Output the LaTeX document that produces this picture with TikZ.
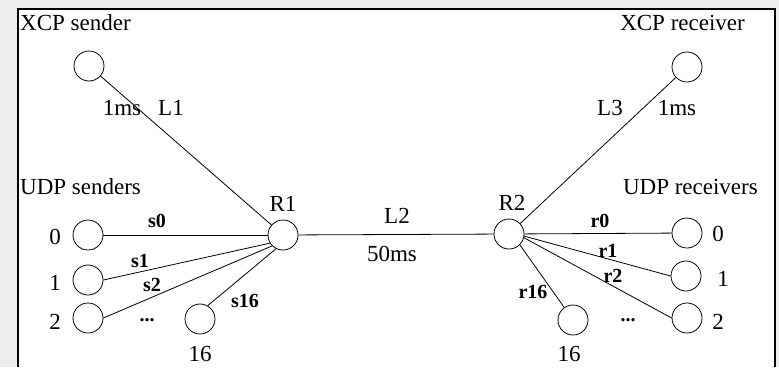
\documentclass[tikz,border=0pt]{standalone}
\usepackage{fontspec}
\setmainfont{Liberation Serif}
\begin{document}
\begin{tikzpicture}[x=1pt,y=-1pt,
  host/.style={draw,circle,minimum size=30pt,inner sep=0pt,line width=0.8pt},
  lbl/.style={inner sep=0pt,font=\fontsize{23}{23}\selectfont},
  elbl/.style={inner sep=0pt,font=\fontsize{20}{20}\selectfont\bfseries},
  link/.style={line width=0.8pt}]
\useasboundingbox (0,0) rectangle (779,367);
% page background and framed area
\fill[black!7] (0,0) rectangle (779,367);
\fill[white] (18,9) rectangle (775,367);
\draw[line width=2pt] (18,367) -- (18,9) -- (775,9) -- (775,367);

% routers
\node[host] (R1) at (283,235) {};
\node[host] (R2) at (509,234) {};
\node[lbl] (R1t) at (283,204) {R1};
\node[lbl] (R2t) at (512,203) {R2};

% XCP endpoints
\node[host] (xs) at (89,66) {};
\node[host] (xr) at (687,67) {};
\node[lbl,anchor=west] (xst) at (20,23) {XCP sender};
\node[lbl,anchor=east] (xrt) at (745,23) {XCP receiver};

% UDP senders
\node[host] (s0) at (88,235) {};
\node[host] (s1) at (88,280) {};
\node[host] (s2) at (88,318) {};
\node[host] (s16) at (200,319) {};
\node[lbl,anchor=west] (ust) at (20,187) {UDP senders};
\node[lbl] (n0) at (55,237) {0};
\node[lbl] (n1) at (55,283) {1};
\node[lbl] (n2) at (55,322) {2};
\node[lbl] (n16) at (200,354) {16};
\node[elbl] (sdots) at (147,320) {...};

% UDP receivers
\node[host] (r0) at (687,233) {};
\node[host] (r1) at (686,276) {};
\node[host] (r2) at (687,318) {};
\node[host] (r16) at (573,320) {};
\node[lbl,anchor=east] (urt) at (758,187) {UDP receivers};
\node[lbl] (m0) at (718,234) {0};
\node[lbl] (m1) at (723,279) {1};
\node[lbl] (m2) at (718,322) {2};
\node[lbl] (m16) at (569,354) {16};
\node[elbl] (rdots) at (628,320) {...};

% links
\draw[link] (xs) -- (R1);
\draw[link] (R1) -- (R2);
\draw[link] (R2) -- (xr);
\draw[link] (s0) -- (R1);
\draw[link] (s1.east) -- (R1.212);
\draw[link] (s2.east) -- (R1.225);
\draw[link] (s16.60) -- (R1.243);
\draw[link] (R2) -- (r0);
\draw[link] (R2.-8) -- (r1.west);
\draw[link] (R2.-14) -- (r2.west);
\draw[link] (R2.-45) -- (r16.125);

% link labels
\node[lbl] (d1) at (122,108) {1ms};
\node[lbl] (l1) at (171,108) {L1};
\node[lbl] (l2) at (397,216) {L2};
\node[lbl] (d2) at (392,254) {50ms};
\node[lbl] (l3) at (610,108) {L3};
\node[lbl] (d3) at (677,108) {1ms};
\node[elbl] (es0) at (157,221) {s0};
\node[elbl] (es1) at (140,261) {s1};
\node[elbl] (es2) at (152,285) {s2};
\node[elbl] (es16) at (245,301) {s16};
\node[elbl] (er0) at (600,221) {r0};
\node[elbl] (er1) at (608,251) {r1};
\node[elbl] (er2) at (613,276) {r2};
\node[elbl] (er16) at (533,292) {r16};
\end{tikzpicture}
\end{document}
